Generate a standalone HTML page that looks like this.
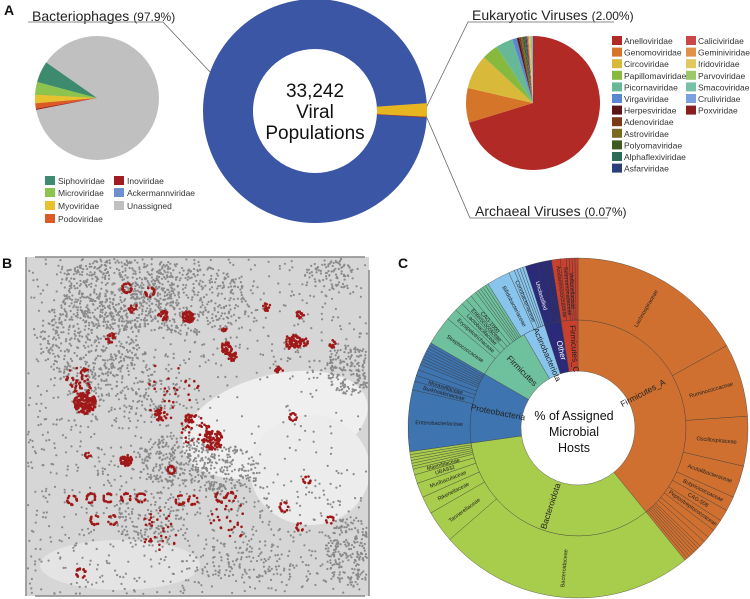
<!DOCTYPE html>
<html><head><meta charset="utf-8"><style>
html,body{margin:0;padding:0;background:#fff;width:750px;height:599px;overflow:hidden}
svg{display:block;font-family:"Liberation Sans",Arial,sans-serif}
</style></head><body>
<svg id="s" width="750" height="599" viewBox="0 0 750 599" xmlns="http://www.w3.org/2000/svg">
<rect width="750" height="599" fill="#fff"/>
<circle cx="97" cy="98" r="62" fill="#c0c0c0"/>
<circle cx="315" cy="111" r="87" fill="none" stroke="#3a56a5" stroke-width="50"/>
<g id="pb"></g>
<g id="g"></g>
<g font-weight="bold" font-size="14" fill="#111">
<text x="4" y="15">A</text><text x="2" y="268">B</text><text x="398" y="268">C</text></g>
<g fill="#222">
<text x="32" y="21" font-size="14">Bacteriophages <tspan font-size="12">(97.9%)</tspan></text>
<text x="472" y="20" font-size="14">Eukaryotic Viruses <tspan font-size="12">(2.00%)</tspan></text>
<text x="475" y="216" font-size="14">Archaeal Viruses <tspan font-size="12">(0.07%)</tspan></text>
</g>
<g stroke="#666" stroke-width="0.8" fill="none">
<polyline points="28,22 163,22 210,72"/>
<polyline points="614,22 468,22 427,106"/>
<polyline points="608,218 470,218 427,118"/>
</g>
<g font-size="19" text-anchor="middle" fill="#111">
<text x="315" y="97">33,242</text><text x="315" y="118">Viral</text><text x="315" y="139">Populations</text></g>
<g font-size="12.5" text-anchor="middle" fill="#111">
<text x="574" y="420">% of Assigned</text><text x="574" y="436">Microbial</text><text x="574" y="452">Hosts</text></g>
</svg>
<script>
var NS="http://www.w3.org/2000/svg",G=document.getElementById("g"),PB=document.getElementById("pb");
function el(t,a,p){var e=document.createElementNS(NS,t);for(var k in a)e.setAttribute(k,a[k]);(p||G).appendChild(e);return e;}
function pt(cx,cy,r,a){a=a*Math.PI/180;return [cx+r*Math.cos(a),cy+r*Math.sin(a)];}
function wedge(cx,cy,r0,r1,a0,a1,fill,stroke,sw){
 var l=(a1-a0)>180?1:0,p1=pt(cx,cy,r1,a0),p2=pt(cx,cy,r1,a1),d;
 if(r0<=0){d="M"+cx+","+cy+"L"+p1+"A"+r1+","+r1+" 0 "+l+" 1 "+p2+"Z";}
 else{var q1=pt(cx,cy,r0,a1),q2=pt(cx,cy,r0,a0);d="M"+p1+"A"+r1+","+r1+" 0 "+l+" 1 "+p2+"L"+q1+"A"+r0+","+r0+" 0 "+l+" 0 "+q2+"Z";}
 el("path",{d:d,fill:fill,stroke:stroke||"none","stroke-width":sw||0});}
function txt(x,y,s,fs,rot,fill,anchor){var t=el("text",{x:x,y:y,"font-size":fs,fill:fill||"#222","text-anchor":anchor||"middle",transform:"rotate("+rot+" "+x+" "+y+")"});t.textContent=s;}
wedge(97,98,0,62,195,215,"#3d8a6e");wedge(97,98,0,62,183,195,"#8cc44e");wedge(97,98,0,62,175,183,"#e8c22e");wedge(97,98,0,62,170,175,"#dc5a26");wedge(97,98,0,62,169,170,"#a01c20");
var L=[["#3d8a6e","Siphoviridae",45,181],["#8cc44e","Microviridae",45,193],["#e8c22e","Myoviridae",45,206],["#dc5a26","Podoviridae",45,219],["#a01c20","Inoviridae",114,181],["#6e8fd0","Ackermannviridae",114,193],["#c0c0c0","Unassigned",114,206]];
L.forEach(function(l){el("rect",{x:l[2],y:l[3]-5,width:10,height:9,fill:l[0]});txt(l[2]+13,l[3]+3,l[1],8.5,0,"#333","start");});
wedge(315,111,62,112,-4,3,"#e6b520");wedge(315,111,62,112,3,3.4,"#b03020");
var rp=[["#b22a26",-90,163],["#d4752a",163,193],["#d9b93a",193,223],["#86b93e",223,237],["#66b896",237,252],["#5b86d0",252,256],["#5a1616",256,258],["#7a3a18",258,259.5],["#7a6a20",259.5,261],["#3e5a1e",261,262.5],["#2e6a58",262.5,263.5],["#2a3e7a",263.5,264.5],["#c84848",264.5,265.5],["#e0914a",265.5,266.5],["#e0c860",266.5,267.5],["#9cc86a",267.5,268.5],["#78c0a8",268.5,269.3],["#7aa0e0",269.3,270]];
rp.forEach(function(s){wedge(533,103,0,67,s[1],s[2],s[0]);});
var R1=[["#b22a26","Anelloviridae"],["#d4752a","Genomoviridae"],["#d9b93a","Circoviridae"],["#86b93e","Papillomaviridae"],["#66b896","Picornaviridae"],["#5b86d0","Virgaviridae"],["#5a1616","Herpesviridae"],["#7a3a18","Adenoviridae"],["#7a6a20","Astroviridae"],["#3e5a1e","Polyomaviridae"],["#2e6a58","Alphaflexiviridae"],["#2a3e7a","Asfarviridae"]];
var R2=[["#c84848","Caliciviridae"],["#e0914a","Geminiviridae"],["#e0c860","Iridoviridae"],["#9cc86a","Parvoviridae"],["#78c0a8","Smacoviridae"],["#7aa0e0","Cruliviridae"],["#8a1e1e","Poxviridae"]];
R1.forEach(function(l,i){var y=41+i*11.6;el("rect",{x:612,y:y-5,width:10,height:9,fill:l[0]});txt(624,y+3,l[1],8.5,0,"#333","start");});
R2.forEach(function(l,i){var y=41+i*11.6;el("rect",{x:686,y:y-5,width:10,height:9,fill:l[0]});txt(698,y+3,l[1],8.5,0,"#333","start");});
var seed=7;function rnd(){seed=(seed*16807)%2147483647;return seed/2147483647;}
el("rect",{x:26,y:257,width:343,height:339,fill:"#d6d6d6"},PB);
el("ellipse",{cx:275,cy:425,rx:95,ry:50,fill:"#efefef",transform:"rotate(-15 275 425)"},PB);
el("ellipse",{cx:310,cy:470,rx:60,ry:55,fill:"#ececec"},PB);
el("ellipse",{cx:120,cy:565,rx:80,ry:25,fill:"#e4e4e4"},PB);
el("line",{x1:26,y1:257,x2:26,y2:596,stroke:"#888","stroke-width":1.5},PB);
el("line",{x1:369,y1:270,x2:369,y2:596,stroke:"#888","stroke-width":1.5},PB);
el("line",{x1:35,y1:257,x2:365,y2:257,stroke:"#888","stroke-width":1.5},PB);
el("line",{x1:35,y1:596,x2:365,y2:596,stroke:"#888","stroke-width":1.5},PB);
var dense=[[120,290,60,40,500],[90,340,50,50,350],[190,300,60,35,350],[175,460,40,25,250],[225,470,35,25,200],[350,370,25,25,200],[350,550,25,35,200],[130,390,50,40,200],[330,275,25,15,80],[150,520,40,30,150],[240,560,60,20,120]];
var gs="";function dot(x,y,c,r){if(x<28||x>367||y<259||y>594)return;gs+='<circle cx="'+x.toFixed(1)+'" cy="'+y.toFixed(1)+'" r="'+r+'" fill="'+c+'"/>';}
for(var i=0;i<1400;i++){var x=28+rnd()*340,y=259+rnd()*336;if(x>200&&y>380&&y<480&&rnd()<0.75)continue;dot(x,y,"#8a8a8a",1.1);}
dense.forEach(function(d){for(var i=0;i<d[4];i++){var a=rnd()*6.283,r=Math.sqrt(rnd());dot(d[0]+Math.cos(a)*r*d[2],d[1]+Math.sin(a)*r*d[3],"#8a8a8a",1.1);}});
var red=[[127,288,5,25,1],[150,292,5,20,1],[133,308,5,15,0],[163,315,6,25,0],[188,317,6,60,0],[111,338,5,20,0],[224,330,3,10,0],[226,348,6,40,0],[232,356,5,25,0],[267,307,4,15,0],[300,315,4,15,0],[293,342,8,60,0],[304,342,4,20,0],[332,344,4,15,0],[279,370,4,12,0],[85,403,11,180,0],[80,380,14,50,0],[160,415,6,30,0],[190,418,5,20,0],[213,440,10,100,0],[195,430,15,40,0],[126,460,6,45,0],[171,470,4,20,1],[72,500,5,18,1],[91,498,5,18,1],[108,498,5,18,1],[126,498,5,18,1],[141,498,5,16,1],[180,500,5,14,1],[193,500,5,14,1],[220,497,5,14,1],[231,497,5,14,1],[81,573,5,18,1],[95,520,5,14,1],[113,520,5,14,1],[284,507,5,16,1],[293,417,4,14,1],[307,480,4,12,1],[330,520,4,10,1],[300,527,4,10,1],[88,455,3,8,0],[160,530,20,30,0],[230,520,20,25,0],[170,390,30,30,0]];
red.forEach(function(c){for(var i=0;i<c[3];i++){var a=rnd()*6.283,r=c[4]?(0.8+0.2*rnd()):Math.sqrt(rnd());dot(c[0]+Math.cos(a)*r*c[2],c[1]+Math.sin(a)*r*c[2],"#a01818",1.3);}});
PB.insertAdjacentHTML("beforeend",gs);
var cx=578,cy=428,r0=57,r1=108,r2=170;
var inner=[["#cf7030",-90,51],["#a8cc4c",51,172],["#3e74b0",172,210],["#6fc09c",210,240],["#88c4ec",240,252],["#2a2a78",252,261],["#c8402e",261,270]];
inner.forEach(function(s){wedge(cx,cy,r0,r1,s[1],s[2],s[0],"#444",0.4);});
var outer=[["#cf7030",[-90,-29,-4,13,24,29,33,37,40,42,44,45,46,47,48,49,50,51]],["#a8cc4c",[51,139,150,156,161,164,166,167,168,169,170,171,172]],["#3e74b0",[172,193,196,198,200,202,203,204,205,206,207,208,209,210]],["#6fc09c",[210,220,224,227,229,231,233,234,235,236,237,238]],["#88c4ec",[238,246,248,249,250,251,252]],["#2a2a78",[252,256,258,259,260,261]],["#c8402e",[261,264,266,267,268,269,270]]];
outer.forEach(function(o){var b=o[1];for(var i=0;i<b.length-1;i++)wedge(cx,cy,r1,r2,b[i],b[i+1],o[0],"#333",0.35);});
function rl(a,r,s,fs,col){var p=pt(cx,cy,r,a),rot=a;if(a>90&&a<270)rot=a-180;txt(p[0],p[1]+fs/3,s,fs,rot,col||"#222");}
rl(-28,75,"Firmicutes_A",8.5);rl(108,80,"Bacteroidota",8.5);rl(191,82,"Proteobacteria",8.5);rl(225,82,"Firmicutes",8.5);rl(246,82,"Actinobacteriota",8);rl(256.5,82,"Other",8,"#fff");rl(265.5,82,"Firmicutes_C",8);
[[-60,"Lachnospiraceae"],[-16,"Ruminococcaceae"],[5,"Oscillospiraceae"],[19,"Acutalibacteraceae"],[26.5,"Butyricicoccaceae"],[31,"CAG-508"],[35,"Peptostreptococcaceae"],[95,"Bacteroidaceae"],[144,"Tannerellaceae"],[153,"Rikenellaceae"],[158.5,"Muribaculaceae"],[162.5,"UBA932"],[165,"Marinifilaceae"],[182,"Enterobacteriaceae"],[194.5,"Burkholderiaceae"],[197,"Moraxellaceae"],[215,"Streptococcaceae"],[222,"Erysipelotrichaceae"],[225.5,"Lactobacillaceae"],[228,"Enterococcaceae"],[230,"CAG-1000"],[242,"Bifidobacteriaceae"],[247,"Coriobacteriaceae"],[254,"Unclassified"],[262.5,"Acidaminococcaceae"],[265,"Selenomonadaceae"],[267,"Veillonellaceae"]].forEach(function(f){rl(f[0],139,f[1],5.5,f[0]>250&&f[0]<261?"#fff":"#222");});
</script>
</body></html>
